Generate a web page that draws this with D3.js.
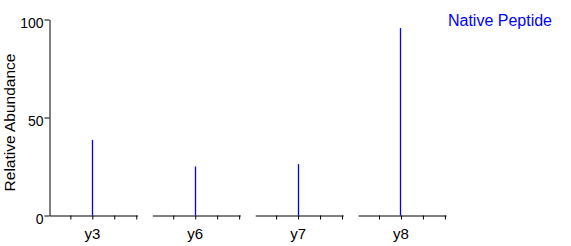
<!DOCTYPE html>
<html lang="en">
<head>
<meta charset="UTF-8">
<title>Native Peptide</title>
<script src="https://d3js.org/d3.v7.min.js"></script>
<style>
  body { margin: 0; background: #fff; }
  svg text { font-family: "Liberation Sans", Arial, sans-serif; }
</style>
</head>
<body>
<script>
// data
const ionLabels = ['y3', 'y6', 'y7', 'y8'];
const abundance = [38.6, 25.0, 26.2, 95.6];   // relative abundance of each ion peak
const yTicks = [0, 50, 100];
const panelTicks = [-1, 0, 1, 2];             // offsets round each peak (m/z units)
const seriesName = 'Native Peptide';

const width = 571, height = 246;
const plotLeft = 49.5, plotRight = 446, y0 = 215.5, y100 = 19.5;

const svg = d3.select('body').append('svg')
  .attr('width', width).attr('height', height);

const y = d3.scaleLinear().domain([0, 100]).range([y0, y100]);

// one band per ion, each band gets its own small m/z axis
const band = d3.scaleBand().domain(ionLabels)
  .range([plotLeft, plotRight]).paddingInner(0.146).paddingOuter(0);

// y axis
const yAxis = svg.append('g')
  .attr('transform', `translate(${plotLeft},0)`)
  .call(d3.axisLeft(y).tickValues(yTicks).tickSize(5).tickSizeOuter(0));
yAxis.select('.domain').attr('stroke', '#000');
yAxis.selectAll('.tick text')
  .attr('x', -6).attr('dy', '0.6em')
  .style('font-size', '14px').attr('fill', '#000');

ionLabels.forEach((lab, i) => {
  const x0 = band(lab);
  const x = d3.scaleLinear().domain([-1.95, 2.05]).range([x0, x0 + band.bandwidth()]);

  const g = svg.append('g').attr('transform', `translate(0,${y0})`);
  g.call(d3.axisBottom(x).tickValues(panelTicks).tickSize(4).tickSizeOuter(0).tickFormat(''));
  g.select('.domain').attr('stroke', '#000');

  // the peak
  const px = Math.floor(x(0)) + 0.5;
  svg.append('line')
    .attr('x1', px).attr('x2', px)
    .attr('y1', y(0)).attr('y2', y(abundance[i]))
    .attr('stroke', '#0000ff').attr('stroke-width', 1.3);

  svg.append('text')
    .attr('x', x(0)).attr('y', 239)
    .attr('text-anchor', 'middle')
    .style('font-size', '15px')
    .text(lab);
});

// y title
svg.append('text')
  .attr('transform', 'translate(15,122.5) rotate(-90)')
  .attr('text-anchor', 'middle')
  .style('font-size', '15.5px')
  .text('Relative Abundance');

// legend
svg.append('text')
  .attr('x', 552).attr('y', 26)
  .attr('text-anchor', 'end')
  .attr('fill', '#0000ff')
  .style('font-size', '16px')
  .text(seriesName);
</script>
</body>
</html>
